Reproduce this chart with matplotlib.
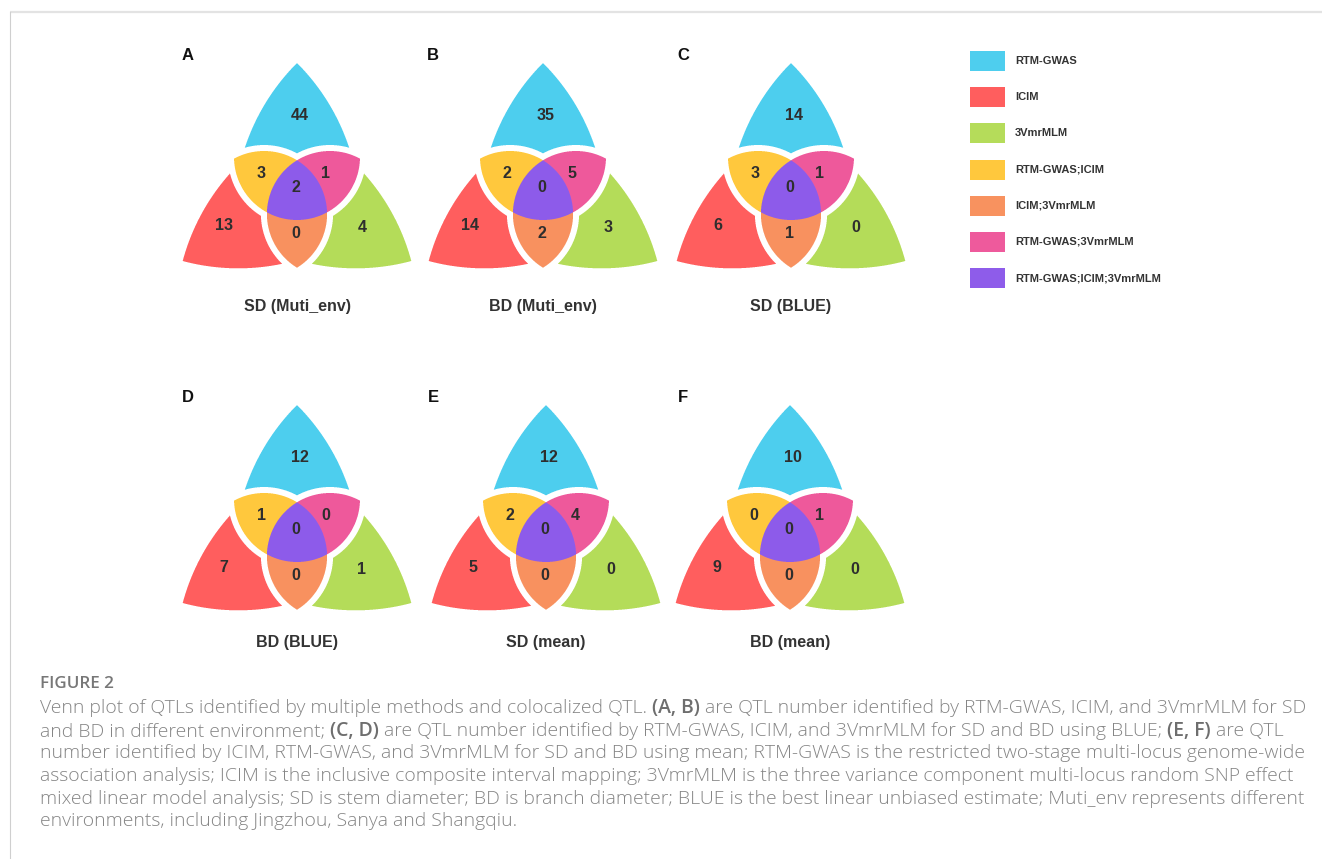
import numpy as np
import matplotlib
matplotlib.use("Agg")
import matplotlib.pyplot as plt
from matplotlib.colors import to_rgb
from matplotlib.patches import Rectangle

W, H = 1322, 859

# ---- data ----
set_names = ["RTM-GWAS", "ICIM", "3VmrMLM", "RTM-GWAS;ICIM", "ICIM;3VmrMLM",
             "RTM-GWAS;3VmrMLM", "RTM-GWAS;ICIM;3VmrMLM"]
region_colors = ["#4ECEEE", "#FF5E5E", "#B5DC5A", "#FFC83D", "#F8925F",
                 "#EE5A9C", "#8E5CEA"]

panel_letters = ["A", "B", "C", "D", "E", "F"]
panel_titles = ["SD (Muti_env)", "BD (Muti_env)", "SD (BLUE)",
                "BD (BLUE)", "SD (mean)", "BD (mean)"]
# counts in legend order
sd_muti_env = [44, 13, 4, 3, 0, 1, 2]
bd_muti_env = [35, 14, 3, 2, 2, 5, 0]
sd_blue = [14, 6, 0, 3, 1, 1, 0]
bd_blue = [12, 7, 1, 1, 0, 0, 0]
sd_mean = [12, 5, 0, 2, 0, 4, 0]
bd_mean = [10, 9, 0, 0, 0, 1, 0]
panel_counts = [sd_muti_env, bd_muti_env, sd_blue, bd_blue, sd_mean, bd_mean]

caption_title = "FIGURE 2"
caption_lines = [
    [("Venn plot of QTLs identified by multiple methods and colocalized QTL.", False),
     ("(A, B)", True),
     ("are QTL number identified by RTM-GWAS, ICIM, and 3VmrMLM for SD", False)],
    [("and BD in different environment;", False), ("(C, D)", True),
     ("are QTL number identified by RTM-GWAS, ICIM, and 3VmrMLM for SD and BD using BLUE;", False),
     ("(E, F)", True), ("are QTL", False)],
    [("number identified by ICIM, RTM-GWAS, and 3VmrMLM for SD and BD using mean; "
      "RTM-GWAS is the restricted two-stage multi-locus genome-wide", False)],
    [("association analysis; ICIM is the inclusive composite interval mapping; "
      "3VmrMLM is the three variance component multi-locus random SNP effect", False)],
    [("mixed linear model analysis; SD is stem diameter; BD is branch diameter; "
      "BLUE is the best linear unbiased estimate; Muti_env represents different", False)],
    [("environments, including Jingzhou, Sanya and Shangqiu.", False)],
]

# ---- layout (pixels) ----
panel_cx = [297, 543, 791, 297, 546, 790]
panel_cy = [195, 195, 195, 537, 537, 537]
letter_xy = [(188, 55), (433, 55), (683, 55), (188, 397), (433, 397), (683, 397)]
title_y = [306, 306, 306, 643, 643, 643]
# label offsets from the centre, legend order
label_off = [(3, -79), (-73, 31), (65, 32), (-36, -22), (-1, 39), (29, -22), (-1, -7)]

VERT = 132      # distance of petal tips from the centre
C_IN = 38       # inner circle centre distance
R_IN = 63       # inner circle radius
R_ARC = 215     # petal edge radius
TIP_HALF = 45   # petal tip half angle (deg)
GAP = 6.0       # white gap between petals and the inner part


def venn_raster(ox, oy, s=4):
    x0, x1 = int(ox - 125), int(ox + 125)
    y0, y1 = int(oy - 140), int(oy + 85)
    nx, ny = (x1 - x0) * s, (y1 - y0) * s
    px = x0 + (np.arange(nx) + 0.5) / s
    py = y0 + (np.arange(ny) + 0.5) / s
    X, Y = np.meshgrid(px - ox, oy - py)
    ang = np.deg2rad([90, 210, 330])
    d = [np.hypot(X - C_IN * np.cos(a), Y - C_IN * np.sin(a)) - R_IN for a in ang]
    dT, dL, dR = d
    T, L, R = dT < 0, dL < 0, dR < 0
    cluster = np.minimum.reduce([np.maximum(dT, dL), np.maximum(dT, dR),
                                 np.maximum(dL, dR)])
    rgb = np.ones((ny, nx, 3))
    t = np.deg2rad(TIP_HALF)
    r = np.hypot(X, Y)
    for k, a in enumerate(ang):
        ux, uy = np.cos(a), np.sin(a)
        vx, vy = -uy, ux
        inl = np.ones_like(X, dtype=bool)
        for sg in (1, -1):
            cx = VERT * ux + R_ARC * (-np.cos(t) * ux + sg * np.sin(t) * vx)
            cy = VERT * uy + R_ARC * (-np.cos(t) * uy + sg * np.sin(t) * vy)
            inl &= np.hypot(X - cx, Y - cy) < R_ARC
        sector = (X * ux + Y * uy) >= 0.5 * r
        rgb[inl & sector & (cluster >= GAP)] = to_rgb(region_colors[k])
    rgb[T & L & ~R] = to_rgb(region_colors[3])
    rgb[L & R & ~T] = to_rgb(region_colors[4])
    rgb[T & R & ~L] = to_rgb(region_colors[5])
    rgb[T & L & R] = to_rgb(region_colors[6])
    img = rgb.reshape(ny // s, s, nx // s, s, 3).mean(axis=(1, 3))
    return img, (x0, x1, y1, y0)


fig = plt.figure(figsize=(W / 100, H / 100), dpi=100)
ax = fig.add_axes([0, 0, 1, 1])
ax.set_xlim(0, W)
ax.set_ylim(H, 0)
ax.axis("off")

# frame lines
ax.plot([10, W], [12, 12], color="#e3e3e3", lw=1.6, solid_capstyle="butt")
ax.plot([10, 10], [12, H], color="#cfcfcf", lw=0.8)

num_font = ["Liberation Sans", "DejaVu Sans"]
for i in range(6):
    ox, oy = panel_cx[i], panel_cy[i]
    img, ext = venn_raster(ox, oy)
    ax.imshow(img, extent=ext, origin="upper", interpolation="nearest",
              aspect="auto", zorder=1)
    for n, (dx, dy) in zip(panel_counts[i], label_off):
        ax.text(ox + dx, oy + dy, str(n), ha="center", va="center",
                fontsize=11.5, fontweight="bold", color="#2e2e2e",
                family=num_font, zorder=3)
    ax.text(ox, title_y[i], panel_titles[i], ha="center", va="center",
            fontsize=11.5, fontweight="bold", color="#333333", family=num_font)
    lx, ly = letter_xy[i]
    ax.text(lx, ly, panel_letters[i], ha="center", va="center",
            fontsize=12, fontweight="bold", color="#111111", family=num_font)

ax.set_xlim(0, W)
ax.set_ylim(H, 0)

# legend
for i, (name, col) in enumerate(zip(set_names, region_colors)):
    yc = 61 + 36.2 * i
    ax.add_patch(Rectangle((970, yc - 10), 35, 20, facecolor=col,
                           edgecolor="none"))
    ax.text(1015, yc, name, ha="left", va="center", fontsize=8,
            fontweight="bold", color="#333333", family=num_font)

# caption
renderer = fig.canvas.get_renderer()
cap_font = ["Open Sans", "DejaVu Sans"]


def text_w(s, size, weight="light"):
    tt = ax.text(0, 0, s, fontsize=size, family=cap_font, fontweight=weight)
    w = tt.get_window_extent(renderer).width
    tt.remove()
    return w


base = 10
cap_size = base * 1260 / text_w(caption_lines[2][0][0], base)
space_w = text_w("x x", cap_size) - text_w("xx", cap_size)

ax.text(40, 688.5, caption_title, fontsize=cap_size * 0.88, family=cap_font,
        fontweight="semibold", color="#777777", ha="left", va="baseline")
for j, pieces in enumerate(caption_lines):
    y = 713.3 + 22.55 * j
    x = 40
    for k, (s, b) in enumerate(pieces):
        if k:
            x += space_w
        tt = ax.text(x, y, s, fontsize=cap_size, family=cap_font,
                     fontweight="semibold" if b else "light",
                     color="#6e6e6e" if b else "#858585",
                     ha="left", va="baseline")
        x += tt.get_window_extent(renderer).width

fig.savefig("out.png", dpi=100)
